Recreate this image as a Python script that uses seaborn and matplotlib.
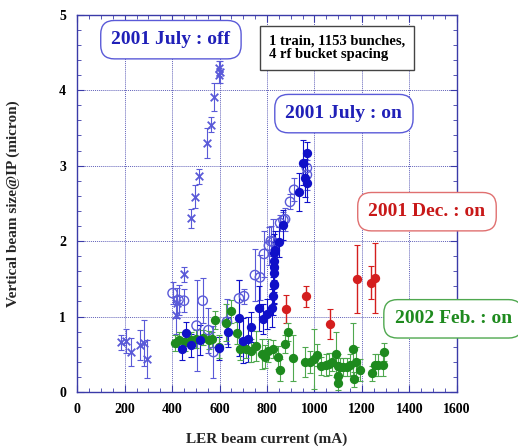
import matplotlib
matplotlib.use("Agg")
import matplotlib.pyplot as plt
from matplotlib.ticker import MultipleLocator
import seaborn as sns

# 2001 July : off (crosses)
off_x = [185, 206, 227, 265, 282, 295, 417, 421, 450, 480, 497, 514, 547, 564, 577, 598, 598, 600]
off_y = [0.66, 0.68, 0.53, 0.62, 0.65, 0.44, 1.02, 1.18, 1.56, 2.30, 2.59, 2.86, 3.30, 3.54, 3.91, 4.29, 4.20, 4.24]
off_err = [0.10, 0.16, 0.19, 0.20, 0.30, 0.25, 0.25, 0.20, 0.10, 0.12, 0.15, 0.10, 0.20, 0.10, 0.18, 0.10, 0.10, 0.15]

# 2001 July : on (open circles)
open_x = [402, 427, 450, 503, 529, 553, 574, 631, 682, 703, 749, 770, 787, 808, 816, 826, 855, 869, 876, 897, 914, 968, 968]
open_y = [1.31, 1.22, 1.21, 0.88, 1.21, 0.82, 0.53, 0.93, 1.24, 1.27, 1.55, 1.52, 1.83, 1.94, 2.00, 1.99, 2.24, 2.28, 2.29, 2.52, 2.68, 2.97, 2.88]
open_err = [0.15, 0.20, 0.15, 0.60, 0.30, 0.30, 0.35, 0.30, 0.25, 0.10, 0.35, 0.30, 0.30, 0.25, 0.20, 0.30, 0.10, 0.10, 0.15, 0.10, 0.15, 0.20, 0.20]

# 2001 July : on (filled circles)
fill_x = [442, 459, 480, 518, 598, 636, 682, 699, 720, 733, 766, 783, 800, 821, 825, 829, 829, 829, 829, 829, 830, 833, 851, 868, 935, 950, 960, 968, 968]
fill_y = [0.57, 0.78, 0.62, 0.69, 0.58, 0.79, 0.98, 0.68, 0.70, 0.86, 1.11, 0.97, 1.03, 1.11, 1.27, 1.42, 1.58, 1.66, 1.74, 1.84, 1.43, 1.88, 1.99, 2.21, 2.65, 3.04, 2.84, 2.77, 3.17]
fill_err = [0.15, 0.15, 0.15, 0.20, 0.15, 0.20, 0.50, 0.30, 0.30, 0.20, 0.30, 0.20, 0.20, 0.25, 0.25, 0.25, 0.25, 0.25, 0.25, 0.25, 0.25, 0.25, 0.20, 0.20, 0.25, 0.30, 0.25, 0.25, 0.15]

# 2001 Dec. : on
dec_x = [882, 964, 1065, 1180, 1238, 1255]
dec_y = [1.10, 1.27, 0.90, 1.50, 1.45, 1.51]
dec_err = [0.18, 0.14, 0.20, 0.45, 0.22, 0.46]

# 2002 Feb. : on
feb_x = [413, 430, 455, 480, 501, 531, 556, 568, 581, 598, 627, 648, 674, 686, 712, 733, 754, 779, 792,
         804, 826, 846, 855, 876, 888, 909, 960, 981, 998, 1010, 1027, 1048, 1061, 1074, 1091, 1099, 1107,
         1099, 1099, 1120, 1137, 1149, 1162, 1175, 1166, 1192, 1242, 1255, 1267, 1288, 1293]
feb_y = [0.65, 0.69, 0.66, 0.69, 0.70, 0.72, 0.69, 0.70, 0.96, 0.60, 0.92, 1.07, 0.78, 0.57, 0.57, 0.55, 0.61, 0.50, 0.47,
         0.55, 0.57, 0.46, 0.29, 0.64, 0.79, 0.45, 0.40, 0.40, 0.44, 0.49, 0.34, 0.36, 0.37, 0.40, 0.50, 0.35, 0.33,
         0.21, 0.12, 0.33, 0.33, 0.36, 0.57, 0.40, 0.17, 0.29, 0.25, 0.36, 0.36, 0.36, 0.53]
feb_err = [0.10, 0.10, 0.12, 0.10, 0.12, 0.10, 0.12, 0.10, 0.12, 0.15, 0.25, 0.15, 0.15, 0.15, 0.12, 0.15, 0.20, 0.20, 0.15,
           0.15, 0.12, 0.15, 0.15, 0.12, 0.12, 0.30, 0.20, 0.15, 0.40, 0.15, 0.12, 0.15, 0.15, 0.12, 0.30, 0.15, 0.12,
           0.10, 0.10, 0.12, 0.12, 0.15, 0.35, 0.20, 0.10, 0.15, 0.10, 0.15, 0.15, 0.15, 0.12]

BLUE = "#1010c8"
BLUE_LIGHT = "#5a5ad8"
GREEN = "#1e8a1e"
GREEN_LIGHT = "#4fa84f"
RED = "#d41e1e"
AXIS = "#3a3aa8"

sns.set_style("ticks")
plt.rcParams["font.family"] = ["Liberation Serif", "DejaVu Serif"]
plt.rcParams["font.weight"] = "bold"

fig = plt.figure(figsize=(5.18, 4.48), dpi=100)
ax = fig.add_axes([0.149, 0.125, 0.733, 0.842])

# error bars first
ax.errorbar(off_x, off_y, yerr=off_err, fmt="none", ecolor=BLUE_LIGHT, elinewidth=0.8, capsize=2.5, capthick=0.8)
ax.errorbar(open_x, open_y, yerr=open_err, fmt="none", ecolor=BLUE_LIGHT, elinewidth=0.8, capsize=2.5, capthick=0.8)
ax.errorbar(fill_x, fill_y, yerr=fill_err, fmt="none", ecolor=BLUE, elinewidth=0.8, capsize=2.5, capthick=0.8)
ax.errorbar(dec_x, dec_y, yerr=dec_err, fmt="none", ecolor=RED, elinewidth=1.0, capsize=2.5, capthick=0.8)
ax.errorbar(feb_x, feb_y, yerr=feb_err, fmt="none", ecolor=GREEN_LIGHT, elinewidth=0.8, capsize=2.5, capthick=0.8)

sns.scatterplot(x=off_x, y=off_y, marker="x", color=BLUE_LIGHT, s=30, linewidth=1.3, ax=ax, zorder=3)
sns.scatterplot(x=open_x, y=open_y, marker="o", facecolor="none", edgecolor=BLUE_LIGHT, s=45, linewidth=1.0, ax=ax, zorder=3)
sns.scatterplot(x=feb_x, y=feb_y, marker="o", color=GREEN, s=45, linewidth=0, ax=ax, zorder=3)
sns.scatterplot(x=fill_x, y=fill_y, marker="o", color=BLUE, s=45, linewidth=0, ax=ax, zorder=4)
sns.scatterplot(x=dec_x, y=dec_y, marker="o", color=RED, s=45, linewidth=0, ax=ax, zorder=4)

ax.set_xlim(0, 1600)
ax.set_ylim(0, 5)
ax.xaxis.set_major_locator(MultipleLocator(200))
ax.xaxis.set_minor_locator(MultipleLocator(50))
ax.yaxis.set_major_locator(MultipleLocator(1))
ax.yaxis.set_minor_locator(MultipleLocator(0.2))
ax.grid(True, which="major", color=AXIS, linestyle=(0, (1, 1)), linewidth=0.7, alpha=0.8)
ax.set_axisbelow(True)
for sp in ax.spines.values():
    sp.set_visible(True)
    sp.set_color(AXIS)
    sp.set_linewidth(1.0)
ax.tick_params(which="both", direction="in", top=True, right=True, color=AXIS,
               labelsize=10, labelcolor="black", pad=8)
ax.tick_params(which="major", length=5)
ax.tick_params(which="minor", length=3)
for lbl in ax.get_xticklabels() + ax.get_yticklabels():
    lbl.set_fontweight("bold")

ax.set_xlabel("LER beam current (mA)", fontsize=11, fontweight="bold", labelpad=12)
ax.set_ylabel("Vertical beam size@IP (micron)", fontsize=11, fontweight="bold", labelpad=28)

box_style = "round,pad=0.55,rounding_size=0.7"
ax.text(395, 4.67, "2001 July : off", color="#2020b8", fontsize=14, fontweight="bold", ha="center", va="center",
        bbox=dict(boxstyle=box_style, fc="white", ec=BLUE_LIGHT, lw=1.0))
ax.text(1124, 3.69, "2001 July : on", color="#2020b8", fontsize=14, fontweight="bold", ha="center", va="center",
        bbox=dict(boxstyle=box_style, fc="white", ec=BLUE_LIGHT, lw=1.0))
ax.text(1474, 2.39, "2001 Dec. : on", color="#c81818", fontsize=14, fontweight="bold", ha="center", va="center",
        bbox=dict(boxstyle=box_style, fc="white", ec="#e07070", lw=1.0), clip_on=False)
ax.text(1584, 0.97, "2002 Feb. : on", color=GREEN, fontsize=14, fontweight="bold", ha="center", va="center",
        bbox=dict(boxstyle=box_style, fc="white", ec=GREEN_LIGHT, lw=1.0), clip_on=False)
ax.text(808, 4.56, "1 train, 1153 bunches,\n4 rf bucket spacing", color="black", fontsize=10.5, fontweight="bold",
        ha="left", va="center", linespacing=1.1,
        bbox=dict(boxstyle="square,pad=0.6", fc="white", ec="#444444", lw=1.0))

fig.savefig("out.png", dpi=100)
